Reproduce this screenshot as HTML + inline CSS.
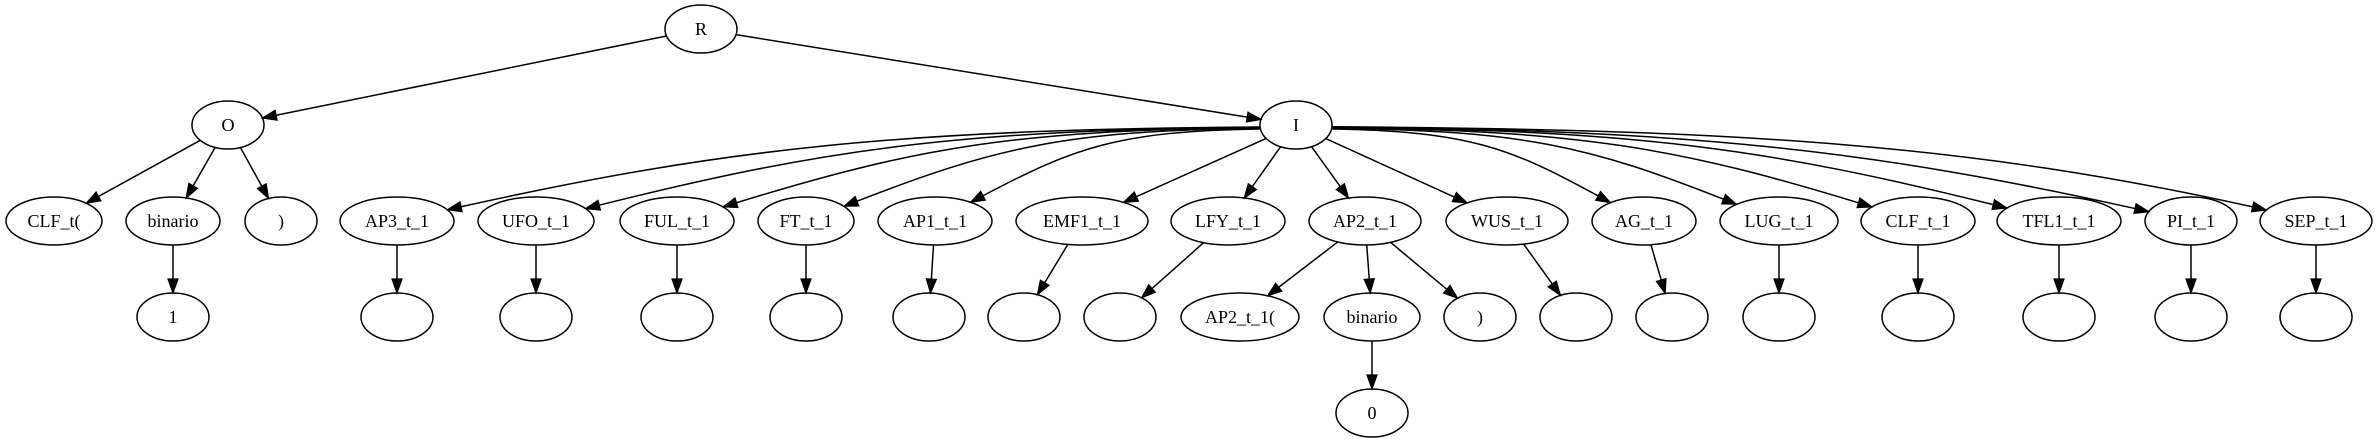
<!DOCTYPE html>
<html><head><meta charset="utf-8"><style>
html,body{margin:0;padding:0;background:#fff;}
svg{display:block;}
text{font-family:"Liberation Serif",serif;font-size:18px;text-anchor:middle;dominant-baseline:central;fill:#000;}
ellipse{fill:none;stroke:#000;stroke-width:1.5;}
</style></head><body>
<svg id="g" width="2377" height="443" viewBox="0 0 2377 443" xmlns="http://www.w3.org/2000/svg">
<g id="edges"></g>
<g id="nodes">
<ellipse cx="701" cy="29" rx="36" ry="24"/><text x="701" y="29">R</text>
<ellipse cx="228" cy="125" rx="36" ry="24"/><text x="228" y="125">O</text>
<ellipse cx="1296" cy="125" rx="36" ry="24"/><text x="1296" y="125">I</text>

<ellipse cx="54" cy="221" rx="48" ry="24"/><text x="54" y="221">CLF_t(</text>
<ellipse cx="173" cy="221" rx="47" ry="24"/><text x="173" y="221">binario</text>
<ellipse cx="281" cy="221" rx="36" ry="24"/><text x="281" y="221">)</text>
<ellipse cx="397" cy="221" rx="57" ry="24"/><text x="397" y="221">AP3_t_1</text>
<ellipse cx="536" cy="221" rx="58" ry="24"/><text x="536" y="221">UFO_t_1</text>
<ellipse cx="677" cy="221" rx="57" ry="24"/><text x="677" y="221">FUL_t_1</text>
<ellipse cx="806" cy="221" rx="48" ry="24"/><text x="806" y="221">FT_t_1</text>
<ellipse cx="935" cy="221" rx="57" ry="24"/><text x="935" y="221">AP1_t_1</text>
<ellipse cx="1082" cy="221" rx="66" ry="24"/><text x="1082" y="221">EMF1_t_1</text>
<ellipse cx="1228" cy="221" rx="57" ry="24"/><text x="1228" y="221">LFY_t_1</text>
<ellipse cx="1365" cy="221" rx="56" ry="24"/><text x="1365" y="221">AP2_t_1</text>
<ellipse cx="1507" cy="221" rx="61" ry="24"/><text x="1507" y="221">WUS_t_1</text>
<ellipse cx="1644" cy="221" rx="52" ry="24"/><text x="1644" y="221">AG_t_1</text>
<ellipse cx="1779" cy="221" rx="59" ry="24"/><text x="1779" y="221">LUG_t_1</text>
<ellipse cx="1918" cy="221" rx="57" ry="24"/><text x="1918" y="221">CLF_t_1</text>
<ellipse cx="2059" cy="221" rx="62" ry="24"/><text x="2059" y="221">TFL1_t_1</text>
<ellipse cx="2191" cy="221" rx="46" ry="24"/><text x="2191" y="221">PI_t_1</text>
<ellipse cx="2316" cy="221" rx="56" ry="24"/><text x="2316" y="221">SEP_t_1</text>

<ellipse cx="173" cy="317" rx="36" ry="24"/><text x="173" y="317">1</text>
<ellipse cx="397" cy="317" rx="36" ry="24"/>
<ellipse cx="536" cy="317" rx="36" ry="24"/>
<ellipse cx="677" cy="317" rx="36" ry="24"/>
<ellipse cx="806" cy="317" rx="36" ry="24"/>
<ellipse cx="929" cy="317" rx="36" ry="24"/>
<ellipse cx="1024" cy="317" rx="36" ry="24"/>
<ellipse cx="1120" cy="317" rx="36" ry="24"/>
<ellipse cx="1240" cy="317" rx="59" ry="24"/><text x="1240" y="317">AP2_t_1(</text>
<ellipse cx="1372" cy="317" rx="48" ry="24"/><text x="1372" y="317">binario</text>
<ellipse cx="1480" cy="317" rx="36" ry="24"/><text x="1480" y="317">)</text>
<ellipse cx="1576" cy="317" rx="36" ry="24"/>
<ellipse cx="1672" cy="317" rx="36" ry="24"/>
<ellipse cx="1779" cy="317" rx="36" ry="24"/>
<ellipse cx="1918" cy="317" rx="36" ry="24"/>
<ellipse cx="2059" cy="317" rx="36" ry="24"/>
<ellipse cx="2191" cy="317" rx="36" ry="24"/>
<ellipse cx="2316" cy="317" rx="36" ry="24"/>

<ellipse cx="1372" cy="413" rx="36" ry="24"/><text x="1372" y="413">0</text>
</g>
</svg>
<script>
(function(){
var NS="http://www.w3.org/2000/svg";
var E=document.getElementById("edges");
function bpt(n,ux,uy){
  var t=1/Math.sqrt((ux*ux)/(n[2]*n[2])+(uy*uy)/(n[3]*n[3]));
  return [n[0]+ux*t,n[1]+uy*t];
}
function norm(x,y){var l=Math.hypot(x,y);return [x/l,y/l];}
function arrow(tip,dx,dy){
  var L=14,W=5;var u=norm(dx,dy);
  var bx=tip[0]-u[0]*L,by=tip[1]-u[1]*L;
  var p=document.createElementNS(NS,"polygon");
  p.setAttribute("points",tip[0]+","+tip[1]+" "+(bx-u[1]*W)+","+(by+u[0]*W)+" "+(bx+u[1]*W)+","+(by-u[0]*W));
  p.setAttribute("fill","#000");p.setAttribute("stroke","#000");p.setAttribute("stroke-width","1.2");
  E.appendChild(p);
  return [bx,by];
}
function path(d){var p=document.createElementNS(NS,"path");p.setAttribute("d",d);p.setAttribute("fill","none");p.setAttribute("stroke","#000");p.setAttribute("stroke-width","1.5");E.appendChild(p);}
function straight(a,b){
  var u=norm(b[0]-a[0],b[1]-a[1]);
  var s=bpt(a,u[0],u[1]),t=bpt(b,-u[0],-u[1]);
  var base=arrow(t,u[0],u[1]);
  path("M"+s[0]+","+s[1]+" L"+base[0]+","+base[1]);
}
function curved(a,b){
  var dx=b[0]-a[0],sg=dx<0?-1:1,adx=Math.abs(dx);
  var su=norm(sg*(adx/60+3),1);
  var s=bpt(a,su[0],su[1]);
  var ratio=Math.max(1.6,Math.min(4.5,adx/190));
  var au=norm(sg*ratio,1);
  var t=bpt(b,-au[0],-au[1]);
  var base=arrow(t,au[0],au[1]);
  var c1=[s[0]+dx*0.4,s[1]+su[1]*adx*0.05];
  var k=Math.min(adx*0.3,(base[1]-s[1])*ratio*0.8);
  var c2=[base[0]-au[0]*k,base[1]-au[1]*k];
  path("M"+s[0]+","+s[1]+" C"+c1[0]+","+c1[1]+" "+c2[0]+","+c2[1]+" "+base[0]+","+base[1]);
}
var R=[701,29,36,24],O=[228,125,36,24],I=[1296,125,36,24];
straight(R,O);straight(R,I);
var r3=[[54,48],[173,47],[281,36],[397,57],[536,58],[677,57],[806,48],[935,57],[1082,66],[1228,57],[1365,56],[1507,61],[1644,52],[1779,59],[1918,57],[2059,62],[2191,46],[2316,56]].map(function(n){return [n[0],221,n[1],24];});
straight(O,r3[0]);straight(O,r3[1]);straight(O,r3[2]);
for(var i=3;i<r3.length;i++){
  var n=r3[i];
  if(Math.abs(n[0]-I[0])<260) straight(I,n); else curved(I,n);
}
function c4(x,rx){return [x,317,rx||36,24];}
straight(r3[1],c4(173));
var pairs=[[3,397],[4,536],[5,677],[6,806],[7,929],[8,1024],[9,1120],[11,1576],[12,1672],[13,1779],[14,1918],[15,2059],[16,2191],[17,2316]];
pairs.forEach(function(p){straight(r3[p[0]],c4(p[1]));});
var ap2=r3[10];
straight(ap2,c4(1240,59));var b2=c4(1372,48);straight(ap2,b2);straight(ap2,c4(1480));
straight(b2,[1372,413,36,24]);
})();
</script>
</body></html>
